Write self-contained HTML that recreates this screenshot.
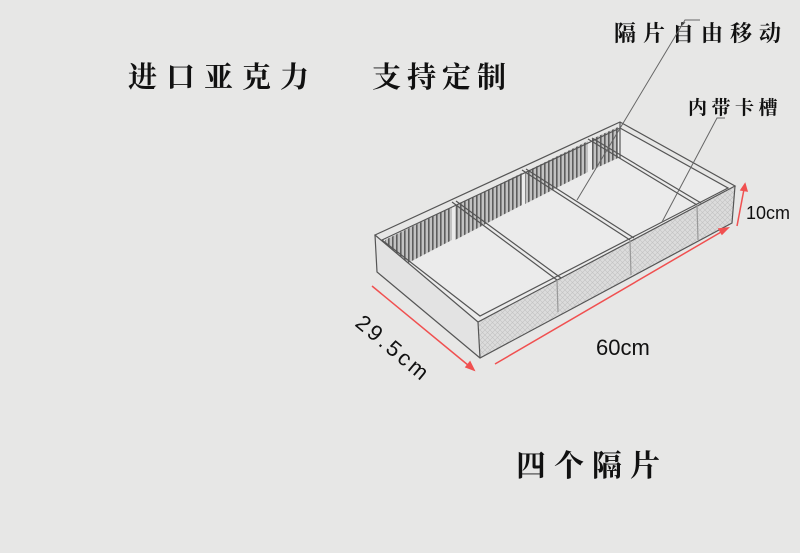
<!DOCTYPE html>
<html><head><meta charset="utf-8"><style>
html,body{margin:0;padding:0;background:#e7e7e6;}
svg{display:block}
text{font-family:"Liberation Sans","Noto Serif CJK SC","Noto Sans CJK SC",sans-serif;fill:#111}
.cj{font-family:"Noto Serif CJK SC","Noto Sans CJK SC",serif;font-weight:bold}
</style></head><body>
<svg width="800" height="553" viewBox="0 0 800 553">
<rect width="800" height="553" fill="#e7e7e6"/>
<defs>
<pattern id="slats" width="4" height="10" patternUnits="userSpaceOnUse">
<rect width="4" height="10" fill="#bbb"/><rect width="1.6" height="10" fill="#444"/>
</pattern>
<pattern id="mesh" width="5" height="5" patternUnits="userSpaceOnUse">
<rect width="5" height="5" fill="#dcdcdc"/><path d="M0 0L5 5M5 0L0 5" stroke="#c2c2c2" stroke-width="0.6"/>
</pattern>
</defs>
<text class="cj" x="128" y="87" font-size="29" letter-spacing="9">进口亚克力</text>
<text class="cj" x="372" y="87" font-size="29" letter-spacing="6">支持定制</text>
<text class="cj" x="614" y="41" font-size="22" letter-spacing="7">隔片自由移动</text>
<text class="cj" x="688" y="114" font-size="19" letter-spacing="4.5">内带卡槽</text>
<text class="cj" x="516" y="476" font-size="30" letter-spacing="8">四个隔片</text>
<!-- floor/inner -->
<polygon points="378,242 620,128 730,190 480,330" fill="#ebebeb"/>
<!-- back wall slats -->
<polygon points="385,240 452,207 452,240 385,275" fill="url(#slats)" opacity="0.85"/>
<polygon points="455,206 522,173 522,205 455,240" fill="url(#slats)" opacity="0.85"/>
<polygon points="525,172 588,141 588,172 525,204" fill="url(#slats)" opacity="0.85"/>
<polygon points="592,139 618,127 618,158 592,170" fill="url(#slats)" opacity="0.85"/>
<!-- front wall mesh -->
<polygon points="478,322 735,186 732,223 480,358" fill="url(#mesh)"/>
<!-- left wall -->
<polygon points="375,235 478,322 480,358 377,272" fill="#e3e3e3"/>
<g fill="none" stroke="#555" stroke-width="1.2">
<polygon points="375,235 620,122 735,186 478,322"/>
<polygon points="382,240 620,128 728,188 480,316"/>
<polyline points="375,235 377,272 480,358 732,223 735,186"/>
<line x1="478" y1="322" x2="480" y2="358"/>
<line x1="620" y1="122" x2="620" y2="158"/>
<line x1="452" y1="202" x2="557" y2="280"/>
<line x1="456" y1="201" x2="561" y2="278"/>
<line x1="522" y1="170" x2="630" y2="240"/>
<line x1="526" y1="169" x2="634" y2="238"/>
<line x1="588" y1="139" x2="697" y2="205"/>
<line x1="592" y1="138" x2="701" y2="203"/>
<line x1="557" y1="280" x2="558" y2="312" stroke="#999"/>
<line x1="630" y1="240" x2="631" y2="275" stroke="#999"/>
<line x1="697" y1="205" x2="698" y2="240" stroke="#999"/>
</g>
<!-- leaders -->
<polyline points="700,20 685,20 577,200" fill="none" stroke="#666" stroke-width="1"/>
<polyline points="725,118 717,118 662,222" fill="none" stroke="#666" stroke-width="1"/>
<!-- red dims -->
<g stroke="#f05050" stroke-width="1.5" fill="#f05050">
<line x1="372" y1="286" x2="474" y2="370"/>
<polygon points="474,370 466,367 470,362"/>
<line x1="495" y1="364" x2="728" y2="228"/>
<polygon points="728,228 722,234 719,229"/>
<line x1="737" y1="226" x2="745" y2="184"/>
<polygon points="745,184 747,191 741,190"/>
</g>
<text x="596" y="355" font-size="22">60cm</text>
<text x="746" y="219" font-size="18">10cm</text>
<text x="0" y="0" font-size="22" transform="translate(354,325) rotate(40)" letter-spacing="3">29.5cm</text>
</svg>
</body></html>
